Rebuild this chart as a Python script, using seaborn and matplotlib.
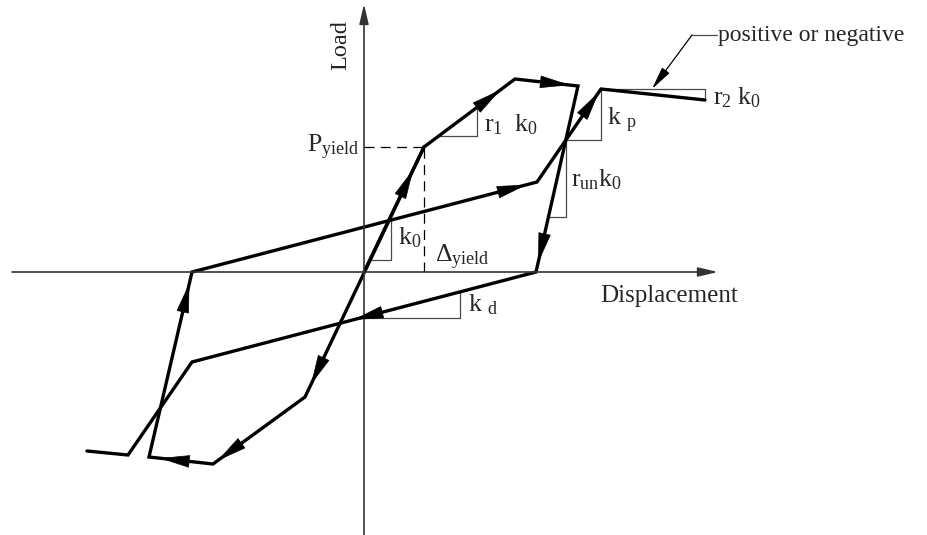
import numpy as np
import matplotlib
matplotlib.use("Agg")
import matplotlib.pyplot as plt
import seaborn as sns

# Hysteresis loop vertices (displacement, load) in drawing units, origin at axes crossing
path_a_disp = [0, 60, 151, 214, 172, -172, -236, -277]
path_a_load = [0, 125, 193, 186, 0, -90, -183, -179]
path_b_disp = [60, -59, -151, -215, -172, 173, 237, 341]
path_b_load = [125, -125, -192, -185, 0, 90, 183, 172]

# arrowheads: (segment index, fraction along segment where tip sits)
arrows_a = [(0, 0.82), (1, 0.84), (2, 0.87), (3, 0.95), (4, 0.53)]
arrows_b = [(0, 0.95), (1, 0.95), (2, 0.83), (3, 0.94), (4, 0.97), (5, 0.97)]

# slope triangles (thin gray guides)
guide_lines = [
    ([74, 113], [136, 136]), ([113, 113], [136, 163]),     # r1 k0
    ([202, 237], [132, 132]), ([237, 237], [132, 183]),    # kp
    ([184, 202], [55, 55]), ([202, 202], [55, 132]),       # r_un k0
    ([6, 27], [12, 12]), ([27, 27], [12, 52]),             # k0
    ([0, 96], [-46, -46]), ([96, 96], [-46, -20]),         # kd
    ([237, 341], [183, 183]), ([341, 341], [183, 172]),    # r2 k0
]
yield_disp = 60
yield_load = 125

labels = [
    (r"$\mathrm{P_{yield}}$", -5, 125, "right"),
    (r"$\mathrm{r_1\ \ k_0}$", 120, 147, "left"),
    (r"$\mathrm{k\ _p}$", 243, 152, "left"),
    (r"$\mathrm{r_{un}k_0}$", 207, 92, "left"),
    (r"$\mathrm{k_0}$", 34, 34, "left"),
    (r"$\mathrm{\Delta_{yield}}$", 71, 15, "left"),
    (r"$\mathrm{k\ _d}$", 104, -33, "left"),
    (r"$\mathrm{r_2\ k_0}$", 349, 174, "left"),
]

sns.set_style("white")
plt.rcParams["font.family"] = ["Liberation Serif", "DejaVu Serif"]
plt.rcParams["mathtext.fontset"] = "custom"
plt.rcParams["mathtext.rm"] = "Liberation Serif"
plt.rcParams["mathtext.it"] = "Liberation Serif:italic"

fig = plt.figure(figsize=(9.27, 5.35), dpi=100)
ax = fig.add_axes([0, 0, 1, 1])
ax.set_xlim(-364, 563)
ax.set_ylim(-263, 272)
ax.axis("off")

axis_col = "#4a4a4a"
# coordinate axes with arrowheads
ax.annotate("", xy=(354, 0), xytext=(-352, 0),
            arrowprops=dict(arrowstyle="-|>,head_length=1.2,head_width=0.28",
                            color="#333333", lw=1.2, shrinkA=0, shrinkB=0, mutation_scale=10))
ax.annotate("", xy=(0, 268), xytext=(0, -263),
            arrowprops=dict(arrowstyle="-|>,head_length=1.2,head_width=0.28",
                            color="#333333", lw=1.2, shrinkA=0, shrinkB=0, mutation_scale=10))

# yield dashed lines
ax.plot([0, yield_disp], [yield_load, yield_load], color="black", lw=0.9, ls=(0, (8, 5)))
ax.plot([yield_disp, yield_disp], [0, yield_load], color="black", lw=0.9, ls=(0, (8, 5)))

for gx, gy in guide_lines:
    ax.plot(gx, gy, color=axis_col, lw=0.9)

# loading paths
for xs, ys in [(path_a_disp, path_a_load), (path_b_disp, path_b_load)]:
    sns.lineplot(x=xs, y=ys, sort=False, estimator=None, color="black",
                 lw=2.4, ax=ax, solid_joinstyle="miter")


def add_arrows(xs, ys, specs):
    for seg, t in specs:
        p0 = np.array([xs[seg], ys[seg]], dtype=float)
        p1 = np.array([xs[seg + 1], ys[seg + 1]], dtype=float)
        tip = p0 + t * (p1 - p0)
        u = (p1 - p0) / np.linalg.norm(p1 - p0)
        ax.annotate("", xy=tip, xytext=tip - u * 3,
                    arrowprops=dict(arrowstyle="-|>,head_length=2.0,head_width=0.42",
                                    color="black", lw=0.5, shrinkA=0, shrinkB=0,
                                    mutation_scale=10))


add_arrows(path_a_disp, path_a_load, arrows_a)
add_arrows(path_b_disp, path_b_load, arrows_b)

# leader for "positive or negative"
ax.plot([353, 328], [237, 237], color=axis_col, lw=0.9)
ax.annotate("", xy=(288, 183), xytext=(328, 237),
            arrowprops=dict(arrowstyle="-|>,head_length=1.4,head_width=0.28",
                            color="black", lw=0.9, shrinkA=0, shrinkB=0, mutation_scale=10))
ax.text(354, 236, "positive or negative", fontsize=17, ha="left", va="center")

ax.text(-23, 227, "Load", fontsize=17.5, rotation=90, ha="center", va="center")
ax.text(236, -24, "Displacement", fontsize=18, ha="left", va="center")

for txt, x, y, ha in labels:
    ax.text(x, y, txt, fontsize=18.5, ha=ha, va="center")

fig.savefig("out.png", dpi=100)
